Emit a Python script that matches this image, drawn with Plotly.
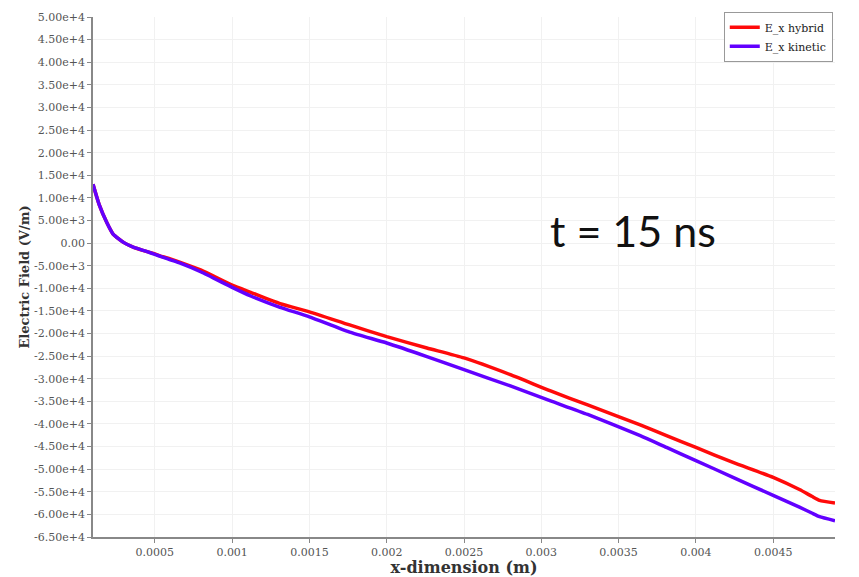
import plotly.graph_objects as go

x_m = [0.0001, 0.00014, 0.00019, 0.00023, 0.0003, 0.00036, 0.00045, 0.0005, 0.00055,
       0.0006, 0.00066, 0.0008, 0.001, 0.00112, 0.00131, 0.0015, 0.00176, 0.002, 0.00226,
       0.0025, 0.0028, 0.00306, 0.0033, 0.00364, 0.00381, 0.004, 0.00424, 0.0045, 0.00467,
       0.00475, 0.0048, 0.0049]

ex_hybrid = [13.0, 8.5, 4.5, 2.0, 0.1, -0.9, -1.9, -2.4, -3.0,
             -3.5, -4.2, -6.0, -9.3, -10.9, -13.4, -15.2, -18.1, -20.7, -23.2,
             -25.4, -29.1, -32.7, -35.8, -40.2, -42.6, -45.2, -48.5, -51.8, -54.5,
             -56.0, -56.9, -57.5]

ex_kinetic = [13.0, 8.5, 4.5, 2.0, 0.1, -0.9, -1.9, -2.5, -3.1,
              -3.7, -4.4, -6.4, -9.8, -11.7, -14.2, -16.3, -19.7, -22.1, -25.1,
              -28.0, -31.6, -34.9, -37.9, -42.6, -45.2, -48.1, -51.8, -55.8, -58.4,
              -59.7, -60.5, -61.4]

y_tick_vals = [50000, 45000, 40000, 35000, 30000, 25000, 20000, 15000, 10000, 5000, 0,
               -5000, -10000, -15000, -20000, -25000, -30000, -35000, -40000, -45000,
               -50000, -55000, -60000, -65000]
y_tick_text = ["5.00e+4", "4.50e+4", "4.00e+4", "3.50e+4", "3.00e+4", "2.50e+4", "2.00e+4",
               "1.50e+4", "1.00e+4", "5.00e+3", "0.00", "-5.00e+3", "-1.00e+4", "-1.50e+4",
               "-2.00e+4", "-2.50e+4", "-3.00e+4", "-3.50e+4", "-4.00e+4", "-4.50e+4",
               "-5.00e+4", "-5.50e+4", "-6.00e+4", "-6.50e+4"]
x_tick_vals = [0.0005, 0.001, 0.0015, 0.002, 0.0025, 0.003, 0.0035, 0.004, 0.0045]
x_tick_text = ["0.0005", "0.001", "0.0015", "0.002", "0.0025", "0.003", "0.0035", "0.004", "0.0045"]

hybrid_vm = [v * 1000 for v in ex_hybrid]
kinetic_vm = [v * 1000 for v in ex_kinetic]

fig = go.Figure()
fig.add_trace(go.Scatter(x=x_m, y=hybrid_vm, mode="lines", name="E_x hybrid",
                         line=dict(color="#ff0a0a", width=3.5, shape="spline", smoothing=0.5)))
fig.add_trace(go.Scatter(x=x_m, y=kinetic_vm, mode="lines", name="E_x kinetic",
                         line=dict(color="#6200ff", width=3.5, shape="spline", smoothing=0.5)))

axis_common = dict(
    showline=True, linecolor="#888888", linewidth=1.5,
    ticks="outside", ticklen=4, tickcolor="#888888",
    showgrid=True, gridcolor="#f1f1f1", gridwidth=1,
    zeroline=False, automargin=False,
    tickfont=dict(family="DejaVu Serif", size=11, color="#555555"),
)

fig.update_xaxes(range=[0.0001, 0.0049], tickvals=x_tick_vals, ticktext=x_tick_text,
                 title=dict(text="<b>x-dimension (m)</b>", standoff=5,
                            font=dict(family="DejaVu Serif", size=16, color="#333333")),
                 **axis_common)
fig.update_yaxes(range=[-65000, 50000], tickvals=y_tick_vals, ticktext=y_tick_text,
                 title=dict(text="<b>Electric Field (V/m)</b>", standoff=2,
                            font=dict(family="DejaVu Serif", size=13, color="#333333")),
                 **axis_common)

fig.add_annotation(text="t = 15 ns", xref="paper", yref="paper", x=0.728, y=0.59,
                   xanchor="center", yanchor="middle",
                   showarrow=False, font=dict(family="Lato", size=43, color="#111111"))

fig.update_layout(
    width=859, height=577,
    margin=dict(l=93, r=24, t=13, b=40),
    paper_bgcolor="white", plot_bgcolor="white",
    showlegend=True,
    legend=dict(x=0.997, y=1.01, xanchor="right", yanchor="top",
                bgcolor="white", bordercolor="#999999", borderwidth=1,
                font=dict(family="DejaVu Serif", size=11, color="#222222"),
                itemwidth=30, tracegroupgap=0),
)

fig.write_html("out.html")
